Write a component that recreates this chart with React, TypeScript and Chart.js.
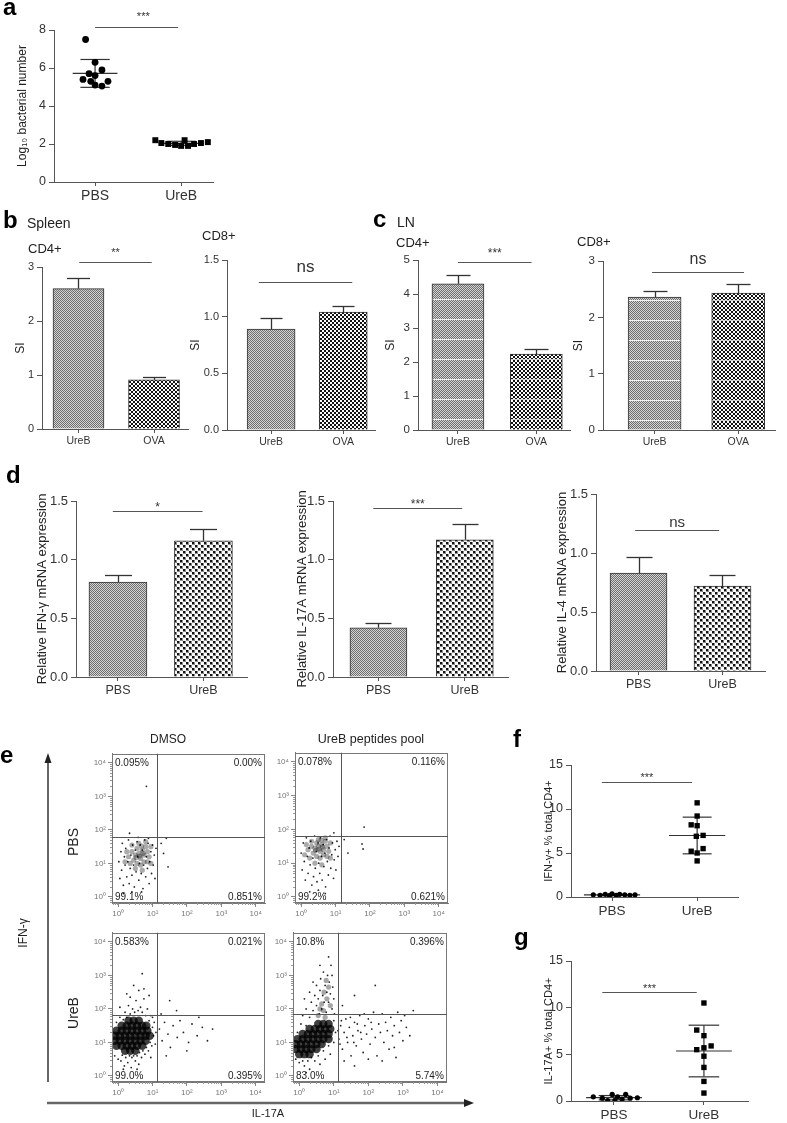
import React, { useEffect, useRef } from 'react';
import { Chart, registerables } from 'chart.js';

Chart.register(...registerables);

const FONT = "'Liberation Sans', Arial, Helvetica, sans-serif";
const AXIS = '#555';
const TICK = '#333';

// ---------------- data ----------------
const miceGroups = ['PBS', 'UreB'];
const antigenGroups = ['UreB', 'OVA'];

// (a) gastric bacterial load (log10)
const loadPBS = [7.5, 6.3, 5.9, 5.7, 5.6, 5.4, 5.3, 5.3, 5.1, 5.05];
const loadPBSSpread = [-0.11, 0, 0.08, -0.07, 0, -0.14, -0.05, 0.15, 0, 0.08];
const loadUreB = [2.2, 2.05, 2.0, 1.95, 1.9, 2.2, 1.9, 2.0, 2.05, 2.1];
const loadUreBSpread = [-0.3, -0.23, -0.15, -0.07, 0, 0.04, 0.08, 0.15, 0.23, 0.31];
const loadTicks = [0, 2, 4, 6, 8];

// (b) spleen stimulation index
const spleenCD4 = [2.6, 0.91];
const spleenCD4Err = [0.2, 0.06];
const spleenCD8 = [0.89, 1.04];
const spleenCD8Err = [0.095, 0.05];
const spleenCD4Ticks = [0, 1, 2, 3];
const spleenCD8Ticks = [0, 0.5, 1, 1.5];

// (c) lymph node stimulation index
const lnCD4 = [4.3, 2.23];
const lnCD4Err = [0.25, 0.15];
const lnCD8 = [2.36, 2.43];
const lnCD8Err = [0.11, 0.16];
const lnCD4Ticks = [0, 1, 2, 3, 4, 5];
const lnCD8Ticks = [0, 1, 2, 3];

// (d) relative mRNA expression
const ifngExpr = [0.81, 1.16];
const ifngExprErr = [0.06, 0.1];
const il17Expr = [0.42, 1.17];
const il17ExprErr = [0.04, 0.13];
const il4Expr = [0.83, 0.72];
const il4ExprErr = [0.14, 0.09];
const exprTicks = [0, 0.5, 1, 1.5];

// (f) IFN-γ+ % of CD4+
const ifngPctPBS = [0.25, 0.2, 0.3, 0.15, 0.35, 0.2, 0.3, 0.25, 0.2, 0.25];
const ifngPctPBSSpread = [-0.22, -0.14, -0.08, -0.03, 0, 0.05, 0.09, 0.15, 0.21, 0.27];
const ifngPctUreB = [10.7, 9.2, 8.2, 8.1, 6.9, 7.0, 5.2, 5.5, 5.0, 4.1];
const ifngPctUreBSpread = [0, 0, -0.07, 0, -0.01, 0.07, -0.07, 0.07, 0, 0];
// (g) IL-17A+ % of CD4+
const il17PctPBS = [0.45, 0.3, 0.05, 0.7, 0.05, 0.45, 0.2, 0.7, 0.3, 0.35];
const il17PctPBSSpread = [-0.23, -0.13, -0.07, -0.02, 0.01, 0.04, 0.09, 0.13, 0.18, 0.26];
const il17PctUreB = [10.5, 7.6, 7.0, 5.9, 5.7, 5.5, 4.8, 3.6, 2.1, 0.85];
const il17PctUreBSpread = [0, -0.08, 0, 0.08, 0, -0.08, 0, 0, 0, 0];
const pctTicks = [0, 5, 10, 15];

// (e) flow cytometry (log10 decades: x = IL-17A, y = IFN-γ)
const flowDecadeTicks = [0, 1, 2, 3, 4];
const flowDecadeLabels = ['10⁰', '10¹', '10²', '10³', '10⁴'];
const flowGateX = [1.13, 1.16, 1.13, 1.12];
const flowGateY = [1.78, 1.81, 1.81, 1.84];
const flowQuadrants = [
  ['0.095%', '0.00%', '99.1%', '0.851%'],
  ['0.078%', '0.116%', '99.2%', '0.621%'],
  ['0.583%', '0.021%', '99.0%', '0.395%'],
  ['10.8%', '0.396%', '83.0%', '5.74%'],
];

const flowPbsDmsoDense = [
  [0.3, 1.2], [0.4, 1.35], [0.5, 1.25], [0.55, 1.45], [0.6, 1.3], [0.65, 1.15], [0.7, 1.4], [0.75, 1.25], [0.8, 1.5], [0.85, 1.35],
  [0.9, 1.2], [0.45, 1.1], [0.55, 1.0], [0.65, 0.95], [0.75, 1.05], [0.85, 1.05], [0.35, 1.0], [0.5, 0.85], [0.7, 0.8], [0.4, 1.55],
  [0.6, 1.6], [0.8, 1.65], [0.95, 1.5], [0.25, 1.35], [0.2, 1.05], [0.95, 1.0], [0.62, 1.22], [0.72, 1.3], [0.52, 1.18], [0.68, 1.52],
];
const flowPbsDmsoEvents = [
  [0.02, 1.05], [0.05, 0.55], [0.08, 1.35], [0.1, 0.8], [0.12, 1.6], [0.15, 0.35], [0.18, 1.2], [0.2, 0.95], [0.22, 1.45], [0.25, 0.6],
  [0.28, 1.05], [0.3, 1.7], [0.32, 0.4], [0.35, 0.85], [0.37, 1.25], [0.4, 0.65], [0.42, 1.55], [0.45, 0.95], [0.47, 0.3], [0.5, 1.4],
  [0.52, 0.75], [0.55, 1.65], [0.57, 1.2], [0.6, 0.5], [0.62, 1.0], [0.64, 1.55], [0.67, 0.7], [0.7, 1.4], [0.72, 0.25], [0.74, 0.95],
  [0.77, 1.7], [0.8, 0.6], [0.82, 1.2], [0.85, 0.85], [0.87, 1.6], [0.9, 0.4], [0.92, 1.05], [0.95, 1.35], [0.97, 0.7], [1.0, 1.55],
  [1.02, 0.95], [1.05, 1.25], [1.07, 0.55], [0.15, 0.1], [0.4, 0.15], [0.58, 1.78], [0.88, 1.75], [1.1, 1.45], [1.25, 1.6], [1.32, 1.3],
  [1.4, 1.75], [0.82, 3.3], [1.45, 0.9], [0.33, 1.9], [0.68, 0.15],
];
const flowPbsPepDense = [
  [0.2, 1.4], [0.3, 1.5], [0.4, 1.45], [0.45, 1.6], [0.5, 1.5], [0.55, 1.35], [0.6, 1.55], [0.65, 1.4], [0.7, 1.65], [0.75, 1.5],
  [0.8, 1.35], [0.35, 1.3], [0.45, 1.2], [0.55, 1.15], [0.65, 1.25], [0.75, 1.2], [0.25, 1.15], [0.4, 1.0], [0.6, 0.95], [0.3, 1.65],
  [0.5, 1.7], [0.7, 1.75], [0.85, 1.6], [0.15, 1.55], [0.1, 1.25], [0.85, 1.15], [0.52, 1.42], [0.62, 1.48], [0.42, 1.38], [0.58, 1.68],
];
const flowPbsPepEvents = [
  [0.0, 1.3], [0.03, 0.8], [0.06, 1.6], [0.09, 1.05], [0.12, 0.5], [0.15, 1.75], [0.18, 1.2], [0.2, 0.7], [0.23, 1.45], [0.26, 0.95],
  [0.28, 1.65], [0.31, 0.35], [0.34, 1.15], [0.36, 0.6], [0.39, 1.8], [0.41, 0.85], [0.44, 1.35], [0.46, 0.45], [0.49, 1.6], [0.51, 1.0],
  [0.54, 0.7], [0.56, 1.75], [0.59, 1.2], [0.61, 0.5], [0.64, 1.55], [0.66, 0.9], [0.69, 1.3], [0.71, 0.3], [0.74, 1.7], [0.76, 1.05],
  [0.79, 0.65], [0.81, 1.45], [0.84, 1.8], [0.86, 0.85], [0.89, 1.25], [0.91, 1.6], [0.94, 0.55], [0.96, 1.1], [0.99, 1.4], [1.01, 0.8],
  [1.04, 1.65], [1.07, 1.2], [1.1, 1.5], [0.25, 0.15], [0.5, 0.2], [0.7, 0.1], [1.36, 1.3], [1.77, 1.57], [1.8, 1.42], [1.83, 2.07],
  [1.25, 1.7], [0.95, 1.9],
];
const flowUreDmsoDense = [
  [0.2, 0.75], [0.35, 0.75], [0.5, 0.75],
  [-0.05, 0.9], [0.1, 0.9], [0.25, 0.9], [0.4, 0.9], [0.55, 0.9], [0.7, 0.9],
  [-0.1, 1.05], [0.05, 1.05], [0.2, 1.05], [0.35, 1.05], [0.5, 1.05], [0.65, 1.05], [0.8, 1.05],
  [-0.1, 1.2], [0.05, 1.2], [0.2, 1.2], [0.35, 1.2], [0.5, 1.2], [0.65, 1.2], [0.8, 1.2], [0.92, 1.2],
  [-0.05, 1.35], [0.1, 1.35], [0.25, 1.35], [0.4, 1.35], [0.55, 1.35], [0.7, 1.35], [0.85, 1.35],
  [0.1, 1.5], [0.25, 1.5], [0.4, 1.5], [0.55, 1.5], [0.7, 1.5], [0.82, 1.5],
  [0.3, 1.65], [0.45, 1.65], [0.6, 1.65],
];
const flowUreDmsoEvents = [
  [-0.1, 0.6], [-0.05, 1.6], [0.0, 0.5], [0.05, 1.75], [0.08, 0.45], [0.12, 0.62], [0.15, 1.68], [0.18, 0.3], [0.2, 1.9], [0.22, 0.55],
  [0.25, 1.75], [0.28, 0.4], [0.3, 2.1], [0.33, 0.6], [0.35, 1.85], [0.38, 0.25], [0.4, 0.55], [0.42, 2.0], [0.45, 0.6], [0.48, 1.9],
  [0.5, 0.45], [0.52, 2.25], [0.55, 0.6], [0.58, 1.95], [0.6, 0.35], [0.62, 0.7], [0.65, 2.05], [0.68, 0.55], [0.7, 1.9], [0.72, 0.75],
  [0.75, 2.3], [0.78, 0.65], [0.8, 1.8], [0.82, 0.85], [0.85, 2.0], [0.88, 0.75], [0.9, 1.65], [0.93, 1.0], [0.95, 1.8], [0.98, 0.9],
  [1.0, 1.45], [1.03, 1.2], [1.05, 1.6], [1.08, 0.95], [0.25, 2.45], [0.6, 2.55], [0.9, 2.4], [0.7, 3.05], [0.45, 2.7],
  [1.2, 1.4], [1.28, 1.05], [1.35, 1.6], [1.45, 1.25], [1.52, 0.85], [1.6, 1.5], [1.72, 1.15], [1.8, 1.65], [1.9, 1.3], [2.05, 1.0],
  [2.15, 1.55], [2.3, 1.2], [2.45, 1.45], [2.6, 1.05], [2.75, 1.4], [1.5, 2.25], [1.7, 1.95], [1.4, 0.6], [2.0, 0.75], [2.35, 1.75], [1.25, 1.85],
  [0.15, 0.2], [0.55, 0.2], [0.95, 0.55], [1.0, 1.75], [0.35, 2.35], [0.75, 2.6], [0.05, 2.05], [1.1, 1.3],
];
const flowUrePepDense = [
  [0.0, 0.65], [0.15, 0.65], [0.3, 0.65],
  [-0.1, 0.8], [0.05, 0.8], [0.2, 0.8], [0.35, 0.8], [0.5, 0.8],
  [-0.1, 0.95], [0.05, 0.95], [0.2, 0.95], [0.35, 0.95], [0.5, 0.95], [0.65, 0.95],
  [-0.05, 1.1], [0.1, 1.1], [0.25, 1.1], [0.4, 1.1], [0.55, 1.1], [0.7, 1.1], [0.85, 1.1],
  [0.1, 1.25], [0.25, 1.25], [0.4, 1.25], [0.55, 1.25], [0.7, 1.25], [0.85, 1.25],
  [0.3, 1.4], [0.45, 1.4], [0.6, 1.4], [0.75, 1.4], [0.9, 1.4],
  [0.55, 1.55], [0.7, 1.55], [0.85, 1.55],
];
const flowUrePepStreak = [[0.55, 1.8], [0.7, 1.95], [0.65, 2.15], [0.8, 2.3], [0.72, 2.5], [0.85, 2.65], [0.78, 2.85], [0.6, 2.0], [0.9, 2.1], [0.75, 1.75]];
const flowUrePepEvents = [
  [0.1, 1.8], [0.2, 2.0], [0.3, 1.75], [0.35, 2.2], [0.4, 1.95], [0.45, 2.4], [0.5, 2.1], [0.5, 2.7], [0.55, 2.3], [0.58, 1.85],
  [0.6, 2.55], [0.62, 2.9], [0.65, 2.0], [0.68, 2.4], [0.7, 3.1], [0.72, 2.2], [0.75, 2.7], [0.78, 1.9], [0.8, 2.5], [0.82, 3.0],
  [0.85, 2.2], [0.87, 2.8], [0.9, 2.45], [0.92, 3.3], [0.95, 2.0], [0.97, 2.65], [1.0, 2.3], [1.02, 1.85], [0.4, 2.8], [0.3, 2.5],
  [0.15, 2.3], [0.85, 3.55], [0.6, 3.3], [0.95, 3.0],
  [-0.1, 0.5], [-0.05, 1.3], [0.0, 0.4], [0.05, 1.55], [0.1, 0.45], [0.15, 0.3], [0.2, 1.5], [0.25, 0.45], [0.3, 0.2], [0.35, 0.55],
  [0.45, 0.45], [0.55, 0.6], [0.6, 0.35], [0.7, 0.75], [0.75, 0.5], [0.85, 0.9], [0.9, 0.65], [1.0, 1.0], [1.05, 1.3], [1.0, 1.65], [0.2, 0.1],
  [1.15, 1.1], [1.2, 1.5], [1.25, 0.8], [1.3, 1.3], [1.35, 1.7], [1.4, 1.0], [1.45, 1.45], [1.5, 0.6], [1.55, 1.2], [1.6, 1.6],
  [1.65, 0.9], [1.7, 1.35], [1.75, 1.8], [1.8, 1.1], [1.85, 0.7], [1.9, 1.5], [1.95, 1.25], [2.0, 1.7], [2.05, 0.95], [2.1, 1.4],
  [2.15, 1.9], [2.2, 1.15], [2.25, 0.6], [2.3, 1.55], [2.35, 1.3], [2.4, 1.85], [2.45, 1.0], [2.5, 1.6], [2.55, 1.35], [2.6, 0.8],
  [2.65, 1.75], [2.7, 1.2], [2.75, 1.5], [2.8, 0.55], [2.85, 1.9], [2.9, 1.3], [2.95, 1.65], [3.0, 1.05], [3.05, 1.8], [3.1, 1.45],
  [3.2, 1.2], [3.3, 1.95], [1.3, 0.45], [1.6, 0.3], [2.0, 0.5], [2.4, 0.45], [2.75, 0.85], [1.25, 2.1], [1.6, 2.4], [2.2, 2.7],
  [1.12, 1.35], [1.18, 0.95], [1.22, 1.65], [1.38, 1.15], [1.48, 1.75], [1.58, 1.0], [1.68, 1.55], [1.78, 1.3], [1.88, 1.85], [2.08, 1.6],
];

// ---------------- helpers ----------------
type Area = { L: number; T: number; R: number; B: number };
type Sig = { x1: number; x2: number; y: number; text: string; tx?: number; dy: number; size: number };
type Deco = {
  err?: { means: number[]; errs: number[]; cap: number };
  stats?: { x: number; values: number[]; mw: number; sw: number }[];
  sig?: Sig;
  flow?: { gx: number; gy: number; labels: string[] };
};
type Spec = { area: Area; yw: number; padTop: number; padRight: number; xh: number; deco: Deco; make: () => any };

const patternCache: Record<string, CanvasPattern> = {};
// kinds: 'fine' = fine grey stipple, 'check' = black/white checker, 'dots' = black dots on white
function pattern(kind: 'fine' | 'check' | 'dots', stripes: boolean, cell: number): CanvasPattern {
  const key = kind + stripes + cell;
  if (patternCache[key]) return patternCache[key];
  const c = document.createElement('canvas');
  const w = kind === 'fine' ? 2 : kind === 'dots' ? 6 : cell * 2;
  const h = stripes ? 20 : w;
  c.width = w;
  c.height = h;
  const g = c.getContext('2d') as CanvasRenderingContext2D;
  for (let y = 0; y < h; y++) {
    for (let x = 0; x < w; x++) {
      let col;
      if (kind === 'fine') col = (x + y) % 2 === 0 ? '#6e6e6e' : '#d4d4d4';
      else if (kind === 'check') col = (Math.floor(x / cell) + Math.floor(y / cell)) % 2 === 0 ? '#111' : '#fbfbfb';
      else {
        // two 2x2 dots per 6x6 tile on a diagonal lattice, each with a soft grey rim
        const cx = x % 3;
        const cy = y % 3;
        const onDot = (Math.floor(x / 3) + Math.floor(y / 3)) % 2 === 0;
        if (!onDot) col = '#fbfbfb';
        else if (cx < 2 && cy < 2) col = '#111';
        else col = '#8a8a8a';
      }
      if (stripes && y === h - 1) col = kind === 'fine' ? '#f2f2f2' : '#cfcfcf';
      g.fillStyle = col;
      g.fillRect(x, y, 1, 1);
    }
  }
  const p = g.createPattern(c, 'repeat') as CanvasPattern;
  patternCache[key] = p;
  return p;
}

function seg(ctx: CanvasRenderingContext2D, x1: number, y1: number, x2: number, y2: number) {
  ctx.beginPath();
  ctx.moveTo(x1, y1);
  ctx.lineTo(x2, y2);
  ctx.stroke();
}
const crisp = (v: number) => Math.round(v) + 0.5;

function decoPlugin(d: Deco) {
  return {
    id: 'deco',
    beforeDatasetsDraw(chart: any) {
      if (!d.stats) return;
      const ctx = chart.ctx;
      const xs = chart.scales.x;
      const ys = chart.scales.y;
      ctx.save();
      ctx.strokeStyle = '#333';
      ctx.lineWidth = 1.2;
      for (const g of d.stats) {
        const n = g.values.length;
        const mean = g.values.reduce((a, b) => a + b, 0) / n;
        const sd = Math.sqrt(g.values.reduce((a, b) => a + (b - mean) * (b - mean), 0) / (n - 1));
        const xc = xs.getPixelForValue(g.x);
        const ym = ys.getPixelForValue(mean);
        const yt = ys.getPixelForValue(mean + sd);
        const yb = ys.getPixelForValue(mean - sd);
        seg(ctx, xs.getPixelForValue(g.x - g.mw), ym, xs.getPixelForValue(g.x + g.mw), ym);
        seg(ctx, xs.getPixelForValue(g.x - g.sw), yt, xs.getPixelForValue(g.x + g.sw), yt);
        seg(ctx, xs.getPixelForValue(g.x - g.sw), yb, xs.getPixelForValue(g.x + g.sw), yb);
        seg(ctx, xc, yt, xc, yb);
      }
      ctx.restore();
    },
    afterDatasetsDraw(chart: any) {
      const ctx = chart.ctx;
      const xs = chart.scales.x;
      const ys = chart.scales.y;
      const X = (v: number) => xs.getPixelForValue(v);
      const Y = (v: number) => ys.getPixelForValue(v);
      ctx.save();
      if (d.err) {
        ctx.strokeStyle = '#333';
        ctx.lineWidth = 1.3;
        d.err.means.forEach((m, i) => {
          const x = crisp(X(i + 1));
          const y0 = Y(m);
          const y1 = Math.round(Y(m + d.err!.errs[i])) + 0.5;
          seg(ctx, x, y0, x, y1);
          seg(ctx, x - d.err!.cap / 2, y1, x + d.err!.cap / 2, y1);
        });
      }
      if (d.sig) {
        const s = d.sig;
        const y = crisp(Y(s.y));
        ctx.strokeStyle = '#555';
        ctx.lineWidth = 1;
        seg(ctx, X(s.x1), y, X(s.x2), y);
        ctx.fillStyle = '#333';
        ctx.font = `${s.size}px ${FONT}`;
        ctx.textAlign = 'center';
        ctx.textBaseline = 'alphabetic';
        const tx = s.tx !== undefined ? s.tx : (s.x1 + s.x2) / 2;
        ctx.fillText(s.text, X(tx), y - s.dy);
      }
      if (d.flow) {
        const { left, right, top, bottom } = chart.chartArea;
        ctx.strokeStyle = '#777';
        ctx.lineWidth = 1;
        ctx.strokeRect(crisp(left), crisp(top), Math.round(right - left) - 1, Math.round(bottom - top) - 1);
        ctx.strokeStyle = '#555';
        const gx = crisp(X(d.flow.gx));
        const gy = crisp(Y(d.flow.gy));
        seg(ctx, gx, top, gx, bottom);
        seg(ctx, left, gy, right, gy);
        ctx.strokeStyle = '#999';
        for (let dec = -1; dec <= 4; dec++) {
          for (let k = 2; k <= 9; k++) {
            const v = dec + Math.log10(k);
            if (v < xs.min || v > xs.max) continue;
            const px = crisp(X(v));
            seg(ctx, px, bottom, px, bottom + 2);
            const py = crisp(Y(v));
            seg(ctx, left - 2, py, left, py);
          }
        }
        ctx.fillStyle = '#222';
        ctx.font = `10px ${FONT}`;
        const L = d.flow.labels;
        ctx.textBaseline = 'top';
        ctx.textAlign = 'left';
        ctx.fillText(L[0], left + 3, top + 4);
        ctx.textAlign = 'right';
        ctx.fillText(L[1], right - 3, top + 4);
        ctx.textBaseline = 'bottom';
        ctx.textAlign = 'left';
        ctx.fillText(L[2], left + 3, bottom - 1);
        ctx.textAlign = 'right';
        ctx.fillText(L[3], right - 3, bottom - 1);
      }
      ctx.restore();
    },
  };
}

function valueAxis(max: number, ticks: number[], digits: number, size: number, title?: string, titleSize?: number) {
  return {
    type: 'linear',
    min: 0,
    max,
    afterBuildTicks: (s: any) => {
      s.ticks = ticks.map((v) => ({ value: v }));
    },
    ticks: {
      autoSkip: false,
      font: { family: FONT, size },
      color: TICK,
      padding: 3,
      callback: (v: any) => Number(v).toFixed(digits),
    },
    grid: { display: true, drawOnChartArea: false, drawTicks: true, tickLength: 5, color: AXIS, lineWidth: 1 },
    border: { display: true, color: AXIS, width: 1 },
    title: title
      ? { display: true, text: title, font: { family: FONT, size: titleSize }, color: '#222', padding: 0 }
      : { display: false },
  };
}

function groupAxis(min: number, max: number, labels: string[], size: number) {
  return {
    type: 'linear',
    min,
    max,
    offset: false,
    afterBuildTicks: (s: any) => {
      s.ticks = labels.map((_, i) => ({ value: i + 1 }));
    },
    ticks: {
      autoSkip: false,
      maxRotation: 0,
      font: { family: FONT, size },
      color: TICK,
      padding: 2,
      callback: (v: any) => labels[Math.round(Number(v)) - 1] ?? '',
    },
    grid: { display: true, drawOnChartArea: false, drawTicks: true, tickLength: 4, color: AXIS, offset: false },
    border: { display: true, color: AXIS, width: 1 },
  };
}

function flowAxis() {
  return {
    type: 'linear',
    min: -0.18,
    max: 4.27,
    afterBuildTicks: (s: any) => {
      s.ticks = flowDecadeTicks.map((v) => ({ value: v }));
    },
    ticks: {
      autoSkip: false,
      maxRotation: 0,
      font: { family: FONT, size: 8 },
      color: '#777',
      padding: 2,
      callback: (v: any) => flowDecadeLabels[Math.round(Number(v))] ?? '',
    },
    grid: { display: true, drawOnChartArea: false, drawTicks: true, tickLength: 4, color: '#888' },
    border: { display: true, color: '#777', width: 1 },
  };
}

function barSpec(o: {
  area: Area; yw: number; xMin: number; xMax: number; labels: string[]; means: number[]; errs: number[];
  yMax: number; ticks: number[]; digits: number; tickSize: number; labelSize: number; title: string; titleSize: number;
  barW: number; stripes: boolean; second: 'check' | 'dots'; sig: Sig;
}): Spec {
  return {
    area: o.area,
    yw: o.yw,
    padTop: 40,
    padRight: 6,
    xh: 24,
    deco: { err: { means: o.means, errs: o.errs, cap: Math.round(o.barW * 0.46) }, sig: o.sig },
    make: () => ({
      type: 'bar',
      data: {
        datasets: [
          {
            data: o.means.map((m, i) => ({ x: i + 1, y: m })),
            backgroundColor: [pattern('fine', o.stripes, 1), pattern(o.second, o.stripes, 2)],
            borderColor: '#333',
            borderWidth: 1,
            barThickness: o.barW,
          },
        ],
      },
      options: {
        scales: {
          x: groupAxis(o.xMin, o.xMax, o.labels, o.labelSize),
          y: valueAxis(o.yMax, o.ticks, o.digits, o.tickSize, o.title, o.titleSize),
        },
      },
    }),
  };
}

function dotSpec(o: {
  area: Area; yw: number; xMin: number; xMax: number; labels: string[];
  g1: number[]; g1s: number[]; g2: number[]; g2s: number[]; r1: number; r2: number;
  yMax: number; ticks: number[]; tickSize: number; labelSize: number; title: string; titleSize: number;
  mw: number; sw: number; sig: Sig;
}): Spec {
  return {
    area: o.area,
    yw: o.yw,
    padTop: 40,
    padRight: 6,
    xh: 26,
    deco: {
      stats: [
        { x: 1, values: o.g1, mw: o.mw, sw: o.sw },
        { x: 2, values: o.g2, mw: o.mw, sw: o.sw },
      ],
      sig: o.sig,
    },
    make: () => ({
      type: 'scatter',
      data: {
        datasets: [
          { data: o.g1.map((v, i) => ({ x: 1 + o.g1s[i], y: v })), pointStyle: 'circle', pointRadius: o.r1, backgroundColor: '#000', borderWidth: 0 },
          { data: o.g2.map((v, i) => ({ x: 2 + o.g2s[i], y: v })), pointStyle: 'rect', pointRadius: o.r2, backgroundColor: '#000', borderWidth: 0 },
        ],
      },
      options: {
        scales: {
          x: groupAxis(o.xMin, o.xMax, o.labels, o.labelSize),
          y: valueAxis(o.yMax, o.ticks, 0, o.tickSize, o.title, o.titleSize),
        },
      },
    }),
  };
}

function flowSpec(area: Area, i: number, layers: { pts: number[][]; r: number; color: string }[]): Spec {
  return {
    area,
    yw: 26,
    padTop: 6,
    padRight: 4,
    xh: 18,
    deco: { flow: { gx: flowGateX[i], gy: flowGateY[i], labels: flowQuadrants[i] } },
    make: () => ({
      type: 'scatter',
      data: {
        datasets: layers.map((l) => ({
          data: l.pts.map((p) => ({ x: p[0], y: p[1] })),
          pointRadius: l.r,
          backgroundColor: l.color,
          borderWidth: 0,
          clip: 0,
        })),
      },
      options: { scales: { x: flowAxis(), y: flowAxis() } },
    }),
  };
}

const lightDense = 'rgba(0,0,0,0.33)';
const darkDense = 'rgba(0,0,0,0.75)';
const eventInk = '#222';

const SPECS: Spec[] = [
  dotSpec({
    area: { L: 54, T: 30, R: 213, B: 182 }, yw: 39, xMin: 0.523, xMax: 2.37, labels: miceGroups,
    g1: loadPBS, g1s: loadPBSSpread, g2: loadUreB, g2s: loadUreBSpread, r1: 3.4, r2: 4.2,
    yMax: 8, ticks: loadTicks, tickSize: 12.5, labelSize: 14, title: 'Log₁₀ bacterial number', titleSize: 12,
    mw: 0.26, sw: 0.17, sig: { x1: 1.0, x2: 1.965, y: 8.15, text: '***', tx: 1.56, dy: 8, size: 11 },
  }),
  barSpec({
    area: { L: 42, T: 267, R: 188, B: 429 }, yw: 29, xMin: 0.517, xMax: 2.45, labels: antigenGroups,
    means: spleenCD4, errs: spleenCD4Err, yMax: 3, ticks: spleenCD4Ticks, digits: 0, tickSize: 11, labelSize: 10.5,
    title: 'SI', titleSize: 12, barW: 51, stripes: false, second: 'check',
    sig: { x1: 1.01, x2: 1.97, y: 3.09, text: '**', dy: 6.5, size: 11 },
  }),
  barSpec({
    area: { L: 227, T: 260, R: 375, B: 430 }, yw: 39, xMin: 0.389, xMax: 2.44, labels: antigenGroups,
    means: spleenCD8, errs: spleenCD8Err, yMax: 1.5, ticks: spleenCD8Ticks, digits: 1, tickSize: 11, labelSize: 10.5,
    title: 'SI', titleSize: 12, barW: 48, stripes: false, second: 'check',
    sig: { x1: 0.83, x2: 2.125, y: 1.31, text: 'ns', dy: 11, size: 17 },
  }),
  barSpec({
    area: { L: 418, T: 260, R: 570, B: 430 }, yw: 35, xMin: 0.49, xMax: 2.43, labels: antigenGroups,
    means: lnCD4, errs: lnCD4Err, yMax: 5, ticks: lnCD4Ticks, digits: 0, tickSize: 11.5, labelSize: 10.5,
    title: 'SI', titleSize: 12, barW: 52, stripes: true, second: 'check',
    sig: { x1: 1.0, x2: 1.94, y: 4.94, text: '***', dy: 5.5, size: 12 },
  }),
  barSpec({
    area: { L: 603, T: 261, R: 775, B: 430 }, yw: 32, xMin: 0.383, xMax: 2.44, labels: antigenGroups,
    means: lnCD8, errs: lnCD8Err, yMax: 3, ticks: lnCD8Ticks, digits: 0, tickSize: 11.5, labelSize: 10.5,
    title: 'SI', titleSize: 12, barW: 53, stripes: true, second: 'check',
    sig: { x1: 0.97, x2: 2.07, y: 2.81, text: 'ns', dy: 8.5, size: 16 },
  }),
  barSpec({
    area: { L: 76, T: 501, R: 247, B: 677 }, yw: 41, xMin: 0.509, xMax: 2.51, labels: miceGroups,
    means: ifngExpr, errs: ifngExprErr, yMax: 1.5, ticks: exprTicks, digits: 1, tickSize: 13, labelSize: 12.5,
    title: 'Relative IFN-γ mRNA expression', titleSize: 13, barW: 58, stripes: false, second: 'dots',
    sig: { x1: 0.94, x2: 1.99, y: 1.415, text: '*', dy: 1, size: 12 },
  }),
  barSpec({
    area: { L: 333, T: 501, R: 508, B: 677 }, yw: 38, xMin: 0.474, xMax: 2.5, labels: miceGroups,
    means: il17Expr, errs: il17ExprErr, yMax: 1.5, ticks: exprTicks, digits: 1, tickSize: 13, labelSize: 12.5,
    title: 'Relative IL-17A mRNA expression', titleSize: 13, barW: 57, stripes: false, second: 'dots',
    sig: { x1: 0.94, x2: 1.97, y: 1.44, text: '***', dy: 1, size: 12 },
  }),
  barSpec({
    area: { L: 596, T: 494, R: 765, B: 671 }, yw: 41, xMin: 0.494, xMax: 2.506, labels: miceGroups,
    means: il4Expr, errs: il4ExprErr, yMax: 1.5, ticks: exprTicks, digits: 1, tickSize: 13, labelSize: 12.5,
    title: 'Relative IL-4 mRNA expression', titleSize: 13, barW: 57, stripes: false, second: 'dots',
    sig: { x1: 0.96, x2: 1.96, y: 1.195, text: 'ns', dy: 4, size: 15 },
  }),
  dotSpec({
    area: { L: 571, T: 765, R: 738, B: 897 }, yw: 29, xMin: 0.518, xMax: 2.48, labels: miceGroups,
    g1: ifngPctPBS, g1s: ifngPctPBSSpread, g2: ifngPctUreB, g2s: ifngPctUreBSpread, r1: 2.6, r2: 3.8,
    yMax: 15, ticks: pctTicks, tickSize: 12.5, labelSize: 13.5, title: 'IFN-γ+ % total CD4+', titleSize: 11,
    mw: 0.33, sw: 0.17, sig: { x1: 0.88, x2: 1.94, y: 13.1, text: '***', dy: 2, size: 11 },
  }),
  dotSpec({
    area: { L: 571, T: 961, R: 748, B: 1101 }, yw: 29, xMin: 0.522, xMax: 2.49, labels: miceGroups,
    g1: il17PctPBS, g1s: il17PctPBSSpread, g2: il17PctUreB, g2s: il17PctUreBSpread, r1: 2.6, r2: 3.8,
    yMax: 15, ticks: pctTicks, tickSize: 12.5, labelSize: 13.5, title: 'IL-17A+ % total CD4+', titleSize: 11,
    mw: 0.31, sw: 0.17, sig: { x1: 0.87, x2: 1.92, y: 11.7, text: '***', dy: 1, size: 11 },
  }),
  flowSpec({ L: 112, T: 753, R: 265, B: 903 }, 0, [
    { pts: flowPbsDmsoDense, r: 2.6, color: lightDense },
    { pts: flowPbsDmsoEvents, r: 0.9, color: eventInk },
  ]),
  flowSpec({ L: 295, T: 752, R: 448, B: 903 }, 1, [
    { pts: flowPbsPepDense, r: 2.6, color: lightDense },
    { pts: flowPbsPepEvents, r: 0.9, color: eventInk },
  ]),
  flowSpec({ L: 112, T: 932, R: 265, B: 1082 }, 2, [
    { pts: flowUreDmsoDense, r: 4.2, color: darkDense },
    { pts: flowUreDmsoEvents, r: 0.9, color: eventInk },
  ]),
  flowSpec({ L: 293, T: 932, R: 447, B: 1082 }, 3, [
    { pts: flowUrePepDense, r: 4.2, color: darkDense },
    { pts: flowUrePepStreak, r: 2.6, color: 'rgba(0,0,0,0.35)' },
    { pts: flowUrePepEvents, r: 0.9, color: eventInk },
  ]),
];

function ChartBox({ spec }: { spec: Spec }) {
  const ref = useRef<HTMLCanvasElement | null>(null);
  const { L, T, R, B } = spec.area;
  const left = L - spec.yw - 2;
  const top = T - spec.padTop;
  const width = R + spec.padRight - left;
  const height = B + spec.xh + 2 - top;
  useEffect(() => {
    const cfg = spec.make();
    cfg.options.responsive = false;
    cfg.options.animation = false;
    cfg.options.events = [];
    cfg.options.layout = { padding: { left: 2, top: spec.padTop, right: spec.padRight, bottom: 2 } };
    cfg.options.plugins = { legend: { display: false }, tooltip: { enabled: false }, title: { display: false } };
    cfg.options.scales.x.afterFit = (s: any) => {
      s.height = spec.xh;
    };
    cfg.options.scales.y.afterFit = (s: any) => {
      s.width = spec.yw;
    };
    cfg.plugins = [decoPlugin(spec.deco)];
    const chart = new Chart(ref.current as HTMLCanvasElement, cfg);
    return () => chart.destroy();
  }, []);
  return (
    <canvas
      ref={ref}
      width={width}
      height={height}
      style={{ position: 'absolute', left, top, width, height }}
    />
  );
}

export default function App() {
  return (
    <div
      style={{
        position: 'absolute',
        left: 0,
        top: 0,
        width: 787,
        height: 1123,
        background: '#fff',
        overflow: 'hidden',
      }}
    >
      {SPECS.map((s, i) => (
        <ChartBox key={i} spec={s} />
      ))}
      <svg
        width={787}
        height={1123}
        style={{ position: 'absolute', left: 0, top: 0 }}
        fontFamily="'Liberation Sans', Arial, Helvetica, sans-serif"
      >
        <g fontWeight="bold" fontSize={24} fill="#000">
          <text x={3} y={15}>a</text>
          <text x={3} y={228}>b</text>
          <text x={373} y={227}>c</text>
          <text x={6} y={483}>d</text>
          <text x={0} y={763}>e</text>
          <text x={513} y={747}>f</text>
          <text x={514} y={945}>g</text>
        </g>
        <g fill="#222">
          <text x={27} y={228} fontSize={14}>Spleen</text>
          <text x={397} y={227} fontSize={14}>LN</text>
          <text x={28} y={253} fontSize={13}>CD4+</text>
          <text x={202} y={240} fontSize={13}>CD8+</text>
          <text x={396} y={247} fontSize={13}>CD4+</text>
          <text x={577} y={246} fontSize={13}>CD8+</text>
          <text x={168} y={743} fontSize={12} textAnchor="middle">DMSO</text>
          <text x={371} y={743} fontSize={12.5} textAnchor="middle">UreB peptides pool</text>
          <text transform="translate(77.5,842) rotate(-90)" fontSize={14} textAnchor="middle">PBS</text>
          <text transform="translate(77.5,1013) rotate(-90)" fontSize={14} textAnchor="middle">UreB</text>
          <text transform="translate(27.3,933) rotate(-90)" fontSize={12} textAnchor="middle">IFN-γ</text>
          <text x={268} y={1117} fontSize={11} textAnchor="middle">IL-17A</text>
        </g>
        <line x1={48} y1={1082} x2={48} y2={760} stroke="#333" strokeWidth={1.5} />
        <polygon points="48,753 44.5,763 51.5,763" fill="#222" />
        <line x1={47} y1={1103} x2={466} y2={1103} stroke="#666" strokeWidth={2.5} />
        <polygon points="474,1103 464,1099 464,1107" fill="#222" />
      </svg>
    </div>
  );
}
